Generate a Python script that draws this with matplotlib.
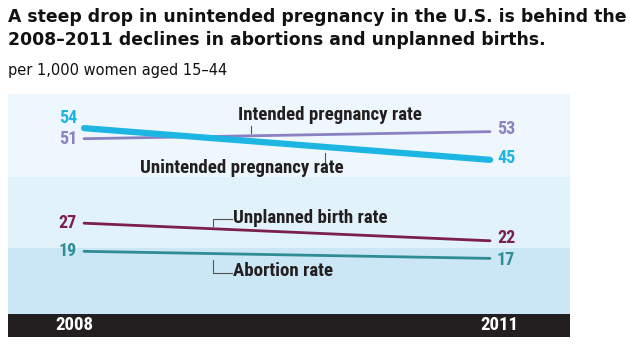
import matplotlib
matplotlib.use('Agg')
from matplotlib import pyplot as plt

# data (per 1,000 women aged 15-44)
years = [2008, 2011]
unintended = [54, 45]
intended = [51, 53]
unplanned_births = [27, 22]
abortions = [19, 17]

c_unint = '#1db6e3'
c_int = '#8b80c2'
c_birth = '#7b1f4c'
c_abort = '#2f8c96'
narrow = ['Roboto Condensed', 'PT Sans Narrow', 'DejaVu Sans']

W, H = 630, 354
fig = plt.figure(figsize=(W / 100, H / 100), dpi=100)

# main panel: pixels x 8..570, y 94..314
ax = fig.add_axes([8 / W, (H - 314) / H, 562 / W, 220 / H])
ax.set_xlim(2007.438, 2011.591)
ax.set_ylim(1.2, 63.7)
ax.axhspan(40, 70, color='#eef7fd', lw=0)
ax.axhspan(20, 40, color='#e2f2fa', lw=0)
ax.axhspan(-5, 20, color='#cbe7f5', lw=0)
for s in ax.spines.values():
    s.set_visible(False)
ax.set_xticks([])
ax.set_yticks([])

ax.plot(years, intended, color=c_int, lw=2.0, solid_capstyle='round')
ax.plot(years, unintended, color=c_unint, lw=4.5, solid_capstyle='round')
ax.plot(years, unplanned_births, color=c_birth, lw=2.0, solid_capstyle='round')
ax.plot(years, abortions, color=c_abort, lw=2.0, solid_capstyle='round')

num = dict(fontsize=13, fontweight='bold', family=narrow, va='center')
lab = dict(fontsize=13.6, fontweight='bold', family=narrow, va='center')
# left values
ax.annotate(str(unintended[0]), (years[0], unintended[0]), xytext=(-5, 7), textcoords='offset points', ha='right', color=c_unint, **num)
ax.annotate(str(intended[0]), (years[0], intended[0]), xytext=(-5, 0), textcoords='offset points', ha='right', color=c_int, **num)
ax.annotate(str(unplanned_births[0]), (years[0], unplanned_births[0]), xytext=(-5, 0), textcoords='offset points', ha='right', color=c_birth, **num)
ax.annotate(str(abortions[0]), (years[0], abortions[0]), xytext=(-5, 0), textcoords='offset points', ha='right', color=c_abort, **num)
# right values
ax.annotate(str(unintended[1]), (years[1], unintended[1]), xytext=(5, 1), textcoords='offset points', ha='left', color=c_unint, **num)
ax.annotate(str(intended[1]), (years[1], intended[1]), xytext=(5, 2), textcoords='offset points', ha='left', color=c_int, **num)
ax.annotate(str(unplanned_births[1]), (years[1], unplanned_births[1]), xytext=(5, 2), textcoords='offset points', ha='left', color=c_birth, **num)
ax.annotate(str(abortions[1]), (years[1], abortions[1]), xytext=(5, -1), textcoords='offset points', ha='left', color=c_abort, **num)

# series labels with leader lines
ink = '#231f20'
lead = dict(color='#555555', lw=0.8)
ax.text(2009.14, 57.7, 'Intended pregnancy rate', ha='left', color=ink, **lab)
ax.plot([2009.23, 2009.23], [52.5, 54.6], **lead)
ax.text(2009.92, 42.6, 'Unintended pregnancy rate', ha='right', color=ink, **lab)
ax.plot([2009.78, 2009.78], [44.1, 46.9], **lead)
ax.text(2009.10, 28.4, 'Unplanned birth rate', ha='left', color=ink, **lab)
ax.plot([2008.95, 2008.95, 2009.09], [26.2, 28.15, 28.15], **lead)
ax.text(2009.10, 13.4, 'Abortion rate', ha='left', color=ink, **lab)
ax.plot([2008.95, 2008.95, 2009.09], [16.5, 12.8, 12.8], **lead)

# black year strip: pixels y 314..337
ax2 = fig.add_axes([8 / W, (H - 337) / H, 562 / W, 23 / H], sharex=ax)
ax2.set_facecolor('#231f20')
ax2.set_ylim(0, 1)
for s in ax2.spines.values():
    s.set_visible(False)
ax2.tick_params(left=False, bottom=False, labelleft=False, labelbottom=False)
ax2.annotate(str(years[0]), (years[0], 0.5), xytext=(-7, 0), textcoords='offset points', ha='center', color='white', **lab)
ax2.annotate(str(years[1]), (years[1], 0.5), xytext=(7, 0), textcoords='offset points', ha='center', color='white', **lab)

# titles
fig.text(8 / W, 1 - 17 / H, 'A steep drop in unintended pregnancy in the U.S. is behind the',
         fontsize=12.4, fontweight='bold', color='#111111', va='center', ha='left')
fig.text(8 / W, 1 - 40 / H, '2008\u20132011 declines in abortions and unplanned births.',
         fontsize=12.4, fontweight='bold', color='#111111', va='center', ha='left')
fig.text(8 / W, 1 - 70 / H, 'per 1,000 women aged 15\u201344',
         fontsize=10.5, color='#111111', va='center', ha='left')

fig.savefig('out.png', dpi=100, facecolor='white')
